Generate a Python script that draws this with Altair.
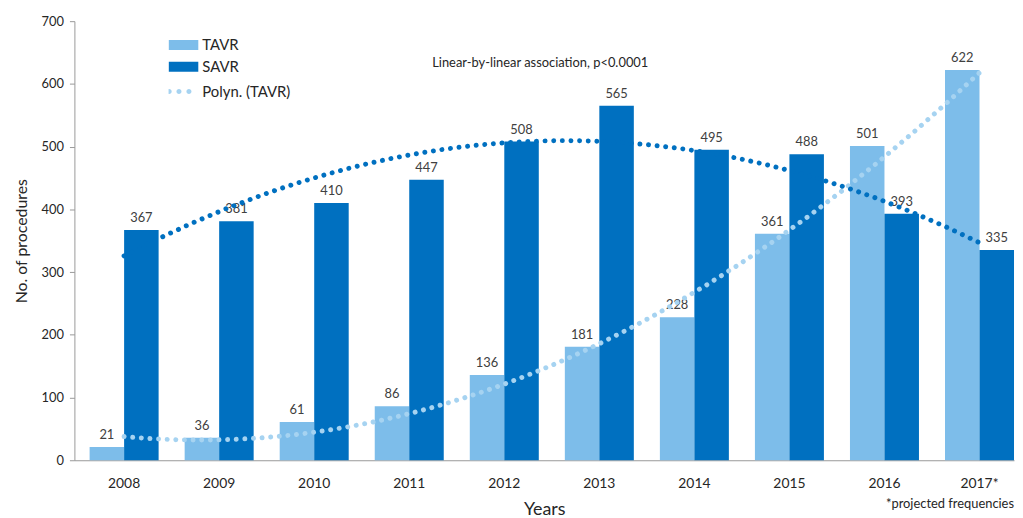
import altair as alt
import pandas as pd

# ---- data ----
years = ["2008", "2009", "2010", "2011", "2012", "2013", "2014", "2015", "2016", "2017*"]
tavr = [21, 36, 61, 86, 136, 181, 228, 361, 501, 622]
savr = [367, 381, 410, 447, 508, 565, 495, 488, 393, 335]
series_names = ["TAVR", "SAVR"]
annotation = ["Linear-by-linear association, p<0.0001"]
footnote = ["*projected frequencies"]

rows = []
for i, yr in enumerate(years):
    rows.append({"year": yr, "idx": i, "series": "TAVR", "value": tavr[i]})
    rows.append({"year": yr, "idx": i, "series": "SAVR", "value": savr[i]})
df = pd.DataFrame(rows)

# ---- style ----
FONT = "Lato"
LIGHT = "#7dbdea"
DARK = "#0070c0"
TREND_LIGHT = "#a6d3f1"
TEXT = "#262626"
W, H = 948, 443
PI, PO = 0.274, 0.08
n = len(years)
qa = -(2 * PO + (1 - PI) / 2)
qb = qa + n - PI + 2 * PO

RECT_PATH = "M-1,-0.34H1V0.34H-1Z"
DOTS_PATH = ("M-1.13,0A0.17,0.17,0,1,0,-0.79,0A0.17,0.17,0,1,0,-1.13,0Z "
             "M-0.47,0A0.17,0.17,0,1,0,-0.13,0A0.17,0.17,0,1,0,-0.47,0Z "
             "M0.2,0A0.17,0.17,0,1,0,0.54,0A0.17,0.17,0,1,0,0.2,0Z")

x_band = alt.X(
    "year:N", sort=years,
    scale=alt.Scale(paddingInner=PI, paddingOuter=PO, align=1),
    axis=alt.Axis(title="Years", labelAngle=0, ticks=False, domainColor="#999999",
                  labelFontSize=14, labelColor=TEXT, labelPadding=16,
                  titleFontSize=18, titleFontWeight="normal", titleColor=TEXT,
                  titlePadding=11, labelFont=FONT, titleFont=FONT),
)
x_off = alt.XOffset("series:N", sort=series_names,
                    scale=alt.Scale(domain=series_names, paddingInner=0, paddingOuter=0))
y_enc = alt.Y(
    "value:Q",
    scale=alt.Scale(domain=[0, 700], nice=False),
    axis=alt.Axis(title="No. of procedures", values=list(range(0, 701, 100)), grid=False,
                  domainColor="#999999", tickColor="#999999", tickSize=5,
                  labelFontSize=13, labelColor=TEXT, labelPadding=6,
                  titleFontSize=16, titleFontWeight="normal", titleColor=TEXT,
                  titlePadding=12, labelFont=FONT, titleFont=FONT),
)

base = alt.Chart(df)

bars = base.mark_bar().encode(
    x=x_band, xOffset=x_off, y=y_enc,
    color=alt.Color(
        "series:N", sort=series_names,
        scale=alt.Scale(domain=series_names, range=[LIGHT, DARK]),
        legend=alt.Legend(title=None, orient="none", legendX=95, legendY=16,
                          symbolType=RECT_PATH, symbolSize=900, symbolStrokeWidth=0,
                          clipHeight=16, rowPadding=6, labelFontSize=15, labelFont=FONT,
                          labelColor=TEXT, labelOffset=4),
    ),
)

labels = base.mark_text(baseline="bottom", dy=-5, fontSize=13, font=FONT, color="#404040").encode(
    x=alt.X("year:N", sort=years), xOffset=x_off, y=alt.Y("value:Q"), text=alt.Text("value:Q"),
)

trend = base.transform_regression(
    "idx", "value", method="poly", order=2, groupby=["series"]
).transform_calculate(
    trend="'Polyn. (' + datum.series + ')'"
).mark_line(strokeDash=[0.01, 8.7], strokeCap="round", strokeWidth=5).encode(
    x=alt.X("idx:Q", scale=alt.Scale(domain=[qa, qb], nice=False, zero=False), axis=None),
    y=alt.Y("value:Q"),
    detail="series:N",
    stroke=alt.Stroke(
        "trend:N",
        scale=alt.Scale(domain=["Polyn. (TAVR)", "Polyn. (SAVR)"], range=[TREND_LIGHT, DARK]),
        legend=alt.Legend(values=["Polyn. (TAVR)"],
                          title=None, orient="none", legendX=95, legendY=63,
                          symbolType=DOTS_PATH, symbolSize=900, symbolStrokeWidth=0,
                          symbolFillColor=TREND_LIGHT,
                          clipHeight=16, labelFontSize=15, labelFont=FONT,
                          labelColor=TEXT, labelOffset=4),
    ),
)

annot = alt.Chart(pd.DataFrame({"t": annotation})).mark_text(
    fontSize=13, font=FONT, color=TEXT, align="center", baseline="middle"
).encode(x=alt.value(470), y=alt.value(42), text="t:N")

foot = alt.Chart(pd.DataFrame({"t": footnote})).mark_text(
    fontSize=13, font=FONT, color=TEXT, align="right", baseline="middle"
).encode(x=alt.value(W), y=alt.value(H + 44), text="t:N")

bar_layer = alt.layer(bars, labels)

chart = alt.layer(bar_layer, trend, annot, foot).resolve_scale(
    x="independent"
).properties(
    width=W, height=H,
    padding={"left": 5, "top": 5, "right": 0, "bottom": 0},
    background="white",
).configure_view(stroke=None)

chart.save("out.html", embed_options={"renderer": "svg", "actions": False})
